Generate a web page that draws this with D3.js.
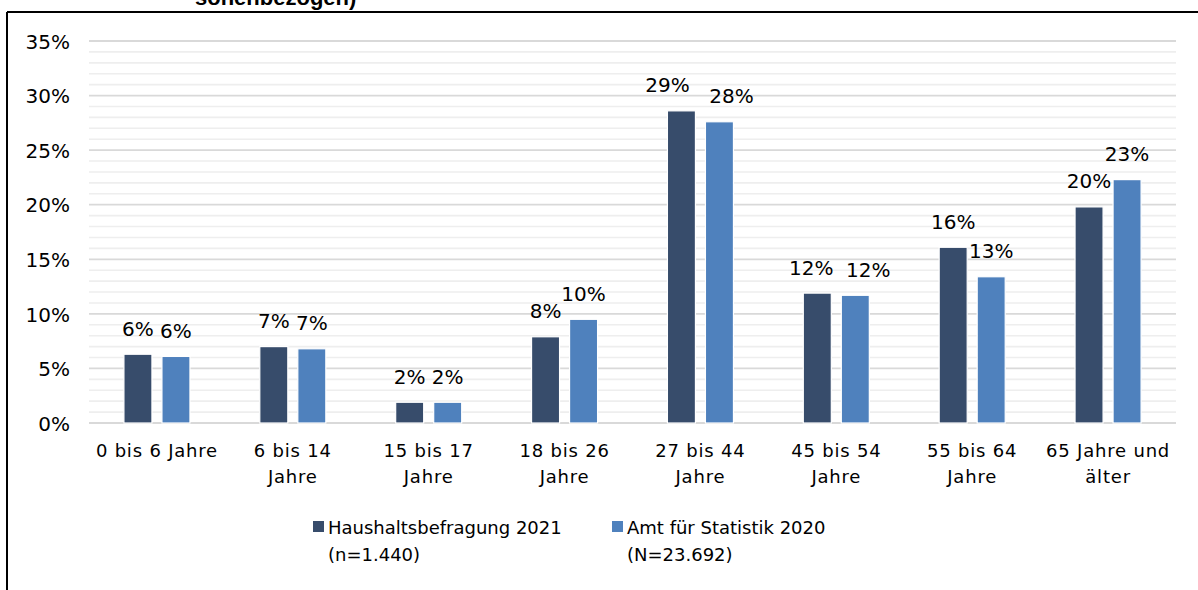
<!DOCTYPE html>
<html><head><meta charset="utf-8">
<script src="https://cdn.jsdelivr.net/npm/d3@7"></script>
<style>
html,body{margin:0;padding:0;background:#fff;}
svg{display:block;font-family:"DejaVu Sans",sans-serif;}
</style></head>
<body>
<svg id="c" width="1198" height="590"></svg>
<script>
const categories = ["0 bis 6 Jahre","6 bis 14\nJahre","15 bis 17\nJahre","18 bis 26\nJahre","27 bis 44\nJahre","45 bis 54\nJahre","55 bis 64\nJahre","65 Jahre und\nälter"];
const seriesNames = ["Haushaltsbefragung 2021\n(n=1.440)","Amt für Statistik 2020\n(N=23.692)"];
const haushalt = [6.3, 7.0, 1.9, 7.9, 28.6, 11.9, 16.1, 19.8];
const amt = [6.1, 6.8, 1.9, 9.5, 27.6, 11.7, 13.4, 22.3];
const haushaltLabels = ["6%","7%","2%","8%","29%","12%","16%","20%"];
const amtLabels = ["6%","7%","2%","10%","28%","12%","13%","23%"];
const yTicks = [0,5,10,15,20,25,30,35];
const colors = ["#374c6b","#4f81bd"];

(function(){
const svg = d3.select("#c");
const pLeft = 89, pRight = 1176, pTop = 41, pBottom = 423;
// manual label nudges (as in the reference, labels moved apart)
const nudge = {"0-4":-14, "1-4":12, "0-5":-6, "1-5":13};

// partial title (clipped at top, as in the reference)
svg.append("text").attr("x",195).attr("y",5).attr("font-family","Liberation Sans, Arial, sans-serif")
  .attr("font-size",22).attr("font-weight","bold").attr("fill","#000").text("sonenbezogen)");

// frame
svg.append("line").attr("x1",7).attr("x2",1198).attr("y1",12).attr("y2",12).attr("stroke","#000").attr("stroke-width",2);
svg.append("line").attr("x1",7).attr("x2",7).attr("y1",12).attr("y2",590).attr("stroke","#000").attr("stroke-width",2);

const y = d3.scaleLinear().domain([0,35]).range([pBottom, pTop]);
const x0 = d3.scaleBand().domain(categories).range([pLeft,pRight]).paddingInner(0.514).paddingOuter(0.257);
const x1 = d3.scaleBand().domain([0,1]).range([0, x0.bandwidth()]).paddingInner(0.263);

// minor gridlines
const minor = d3.range(1,36).filter(v => v % 5 !== 0);
svg.append("g").selectAll("line").data(minor).join("line")
  .attr("x1",pLeft).attr("x2",pRight).attr("y1",d=>y(d)).attr("y2",d=>y(d))
  .attr("stroke","#eeeeee").attr("stroke-width",1.6);
// major gridlines
svg.append("g").selectAll("line").data(yTicks).join("line")
  .attr("x1",pLeft).attr("x2",pRight).attr("y1",d=>y(d)).attr("y2",d=>y(d))
  .attr("stroke","#d9d9d9").attr("stroke-width",1.8);

// y axis labels
const yAxis = d3.axisLeft(y).tickValues(yTicks).tickFormat(d=>d+"%").tickSize(0).tickPadding(0);
const ga = svg.append("g").attr("transform","translate(70,0)").call(yAxis);
ga.select(".domain").remove();
ga.selectAll("text").attr("font-size",20).attr("fill","#000").attr("font-family","DejaVu Sans, sans-serif").attr("dy","0.36em");

// bars
const series = [haushalt, amt];
const labels = [haushaltLabels, amtLabels];
series.forEach((vals, si) => {
  const g = svg.append("g");
  g.selectAll("rect").data(vals).join("rect")
    .attr("x",(d,i)=>x0(categories[i]) + x1(si))
    .attr("width",x1.bandwidth())
    .attr("y",d=>y(d)).attr("height",d=>y(0)-y(d))
    .attr("fill",colors[si]).attr("stroke","#fff").attr("stroke-width",1.2);
  g.selectAll("text").data(vals).join("text")
    .attr("x",(d,i)=>x0(categories[i]) + x1(si) + x1.bandwidth()/2 + (nudge[si+"-"+i]||0))
    .attr("y",d=>y(d)-18.5)
    .attr("text-anchor","middle").attr("font-size",20).attr("fill","#000")
    .text((d,i)=>labels[si][i]);
});

// x axis category labels
const xAxis = d3.axisBottom(x0).tickSize(0).tickFormat("");
svg.append("g").attr("transform",`translate(0,${pBottom})`).call(xAxis).select(".domain").remove();
const cg = svg.append("g");
categories.forEach(c => {
  const t = cg.append("text").attr("x", x0(c)+x0.bandwidth()/2).attr("y",457)
    .attr("text-anchor","middle").attr("font-size",18).attr("letter-spacing",0.8).attr("fill","#000");
  c.split("\n").forEach((ln,i)=>{
    t.append("tspan").attr("x", x0(c)+x0.bandwidth()/2).attr("y",457+i*26).text(ln);
  });
});

// legend
const legX = [313, 612];
seriesNames.forEach((n, si) => {
  const g = svg.append("g");
  g.append("rect").attr("x",legX[si]).attr("y",521).attr("width",11).attr("height",11).attr("fill",colors[si]);
  const t = g.append("text").attr("font-size",18).attr("fill","#000");
  n.split("\n").forEach((ln,i)=>{
    t.append("tspan").attr("x",legX[si]+15).attr("y",534+i*27).text(ln);
  });
});
})();
</script>
</body></html>
